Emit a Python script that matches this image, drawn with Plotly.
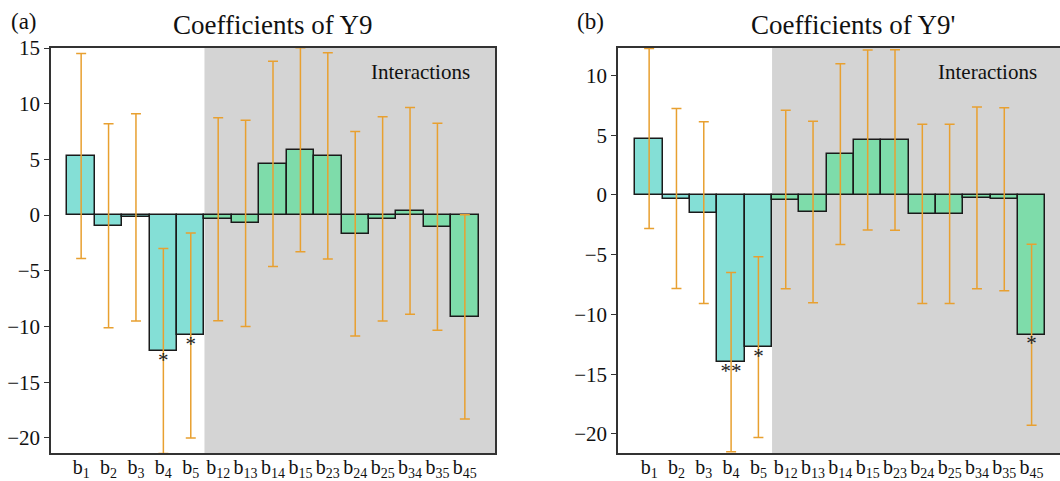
import plotly.graph_objects as go

categories = ["b1", "b2", "b3", "b4", "b5", "b12", "b13", "b14", "b15",
              "b23", "b24", "b25", "b34", "b35", "b45"]
tick_labels = ["b<sub>1</sub>", "b<sub>2</sub>", "b<sub>3</sub>", "b<sub>4</sub>", "b<sub>5</sub>",
               "b<sub>12</sub>", "b<sub>13</sub>", "b<sub>14</sub>", "b<sub>15</sub>",
               "b<sub>23</sub>", "b<sub>24</sub>", "b<sub>25</sub>", "b<sub>34</sub>",
               "b<sub>35</sub>", "b<sub>45</sub>"]

# Panel (a): Coefficients of Y9
coef_a = [5.3, -0.95, -0.2, -12.2, -10.8, -0.37, -0.74, 4.6, 5.87, 5.32,
          -1.68, -0.34, 0.38, -1.04, -9.13]
err_a = [9.2, 9.15, 9.3, 9.2, 9.2, 9.12, 9.26, 9.2, 9.15, 9.25,
         9.18, 9.17, 9.27, 9.29, 9.17]
sig_a = ["", "", "", "*", "*", "", "", "", "", "", "", "", "", "", ""]

# Panel (b): Coefficients of Y9'
coef_b = [4.72, -0.3, -1.48, -14.0, -12.74, -0.39, -1.43, 3.42, 4.6, 4.6,
          -1.58, -1.58, -0.24, -0.36, -11.7]
err_b = [7.53, 7.53, 7.6, 7.5, 7.57, 7.47, 7.6, 7.57, 7.54, 7.55,
         7.5, 7.5, 7.61, 7.65, 7.57]
sig_b = ["", "", "", "**", "*", "", "", "", "", "", "", "", "", "", "*"]

n_main = 5
MAIN_COLOR = "#84DFD6"
INT_COLOR = "#7EDCAA"
ERR_COLOR = "#E8A030"
FONT = "Liberation Serif"

W, H = 1060, 481
ML, MR, MT, MB = 51, 0, 48, 28
PW = W - ML - MR


def px(x):
    return (x - ML) / PW


fig = go.Figure()

idx = list(range(len(categories)))
colors = [MAIN_COLOR if i < n_main else INT_COLOR for i in idx]

for coef, err, sig, xa, ya in [(coef_a, err_a, sig_a, "x", "y"),
                               (coef_b, err_b, sig_b, "x2", "y2")]:
    fig.add_trace(go.Bar(
        x=idx, y=coef, width=1.0, xaxis=xa, yaxis=ya,
        marker=dict(color=colors, line=dict(color="#1a1a1a", width=1.5)),
        showlegend=False, hoverinfo="skip"))
    fig.add_trace(go.Scatter(
        x=idx, y=coef, mode="markers", xaxis=xa, yaxis=ya,
        marker=dict(size=1, color="rgba(0,0,0,0)"),
        error_y=dict(type="data", array=err, symmetric=True,
                     color=ERR_COLOR, thickness=1.5, width=5),
        showlegend=False, hoverinfo="skip"))
    sx = [i for i in idx if sig[i]]
    fig.add_trace(go.Scatter(
        x=sx, y=[coef[i] for i in sx], text=[sig[i] for i in sx],
        mode="text", textposition="bottom center", xaxis=xa, yaxis=ya,
        textfont=dict(family=FONT, size=21, color="#222222"),
        showlegend=False, hoverinfo="skip"))

# grey "Interactions" shading
for xr, yr, x1 in [("x", "y", 15.1), ("x2", "y2", 15.1)]:
    fig.add_shape(type="rect", xref=xr, yref=yr + " domain",
                  x0=n_main - 0.5, x1=x1, y0=0, y1=1,
                  fillcolor="#D4D4D4", line=dict(width=0), layer="below")

axis_common = dict(showgrid=False, zeroline=False, automargin=False)
xcommon = dict(axis_common, tickmode="array", tickvals=idx, ticktext=tick_labels,
               ticks="", showline=True, linecolor="#333333", linewidth=1.5,
               mirror=True, tickangle=0, ticklabelstandoff=-5,
               tickfont=dict(family=FONT, size=20, color="#111111"))
ycommon = dict(axis_common, tickmode="array", tickvals=[-20, -15, -10, -5, 0, 5, 10, 15],
               ticks="outside", ticklen=5, tickwidth=1.2, tickcolor="#333333",
               showline=True, linecolor="#333333", linewidth=1.5,
               tickfont=dict(family=FONT, size=21, color="#111111"))

fig.update_layout(
    width=W, height=H,
    margin=dict(l=ML, r=MR, t=MT, b=MB, autoexpand=False),
    plot_bgcolor="white", paper_bgcolor="white",
    bargap=0,
    xaxis=dict(xcommon, domain=[0, px(495)], range=[-1.1, 15.1], anchor="y"),
    yaxis=dict(ycommon, domain=[0, 1], range=[-21.35, 15.0], anchor="x", mirror=True),
    xaxis2=dict(xcommon, domain=[px(618), 1], range=[-1.14, 15.04], anchor="y2"),
    yaxis2=dict(ycommon, domain=[0, 1], range=[-21.6, 12.3], anchor="x2", mirror=False,
                tickvals=[-20, -15, -10, -5, 0, 5, 10]),
)

PH = H - MT - MB


def py(y):
    return 1 + (MT - y) / PH


ann = [
    dict(text="Coefficients of Y9", x=px(272), y=py(25), size=27),
    dict(text="Coefficients of Y9'", x=px(853), y=py(25), size=27),
    dict(text="(a)", x=px(24), y=py(21), size=23),
    dict(text="(b)", x=px(590), y=py(21), size=23),
    dict(text="Interactions", x=px(420), y=py(72), size=21),
    dict(text="Interactions", x=px(987), y=py(72), size=21),
]
for a in ann:
    fig.add_annotation(text=a["text"], xref="paper", yref="paper", x=a["x"], y=a["y"],
                       xanchor="center", yanchor="middle", showarrow=False,
                       font=dict(family=FONT, size=a["size"], color="#111111"))

fig.write_html("out.html", config={"displayModeBar": False},
               post_script="document.body.style.margin='0';document.body.style.padding='0';")
